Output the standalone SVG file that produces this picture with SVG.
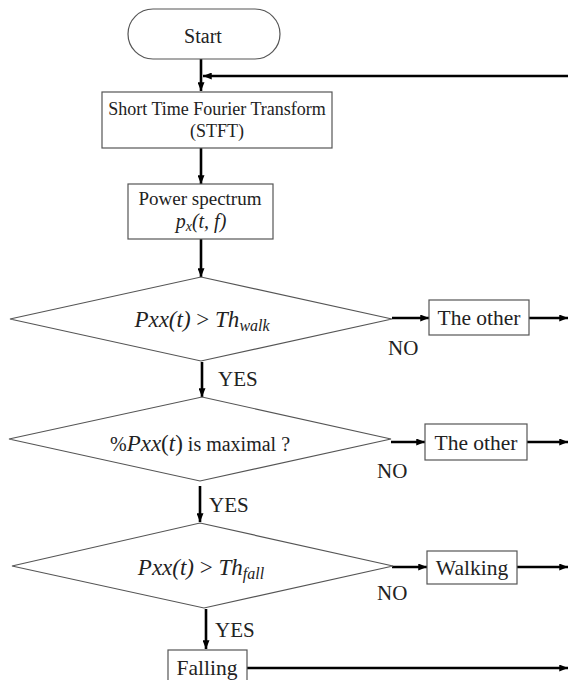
<svg xmlns="http://www.w3.org/2000/svg" width="568" height="680" viewBox="0 0 568 680">
<style>
.shape{fill:#fff;stroke:#555;stroke-width:1.2}
.t{font-family:"Liberation Serif","Times New Roman",serif;fill:#222}
.m{font-family:"Liberation Serif","Times New Roman",serif;font-style:italic;fill:#222}
.c{stroke:#000;stroke-width:2.6;fill:none}
</style>
<defs>
<marker id="ah" viewBox="0 0 10 8" refX="10" refY="4" markerWidth="9" markerHeight="7" markerUnits="userSpaceOnUse" orient="auto">
<path d="M0,0 L10,4 L0,8 z" fill="#000"/>
</marker>
</defs>
<rect width="568" height="680" fill="#fff"/>
<g id="connectors">
<line class="c" x1="201" y1="59" x2="201" y2="91" marker-end="url(#ah)"/>
<line class="c" x1="568" y1="76" x2="203" y2="76" marker-end="url(#ah)"/>
<line class="c" x1="201" y1="148" x2="201" y2="184" marker-end="url(#ah)"/>
<line class="c" x1="201" y1="239" x2="201" y2="277" marker-end="url(#ah)"/>
<line class="c" x1="202" y1="362" x2="202" y2="397" marker-end="url(#ah)"/>
<line class="c" x1="200" y1="486" x2="200" y2="522" marker-end="url(#ah)"/>
<line class="c" x1="206" y1="609" x2="206" y2="649" marker-end="url(#ah)"/>
<line class="c" x1="392" y1="318" x2="429" y2="318" marker-end="url(#ah)"/>
<line class="c" x1="529" y1="318" x2="568" y2="318" marker-end="url(#ah)"/>
<line class="c" x1="391" y1="442" x2="425" y2="442" marker-end="url(#ah)"/>
<line class="c" x1="527" y1="442" x2="568" y2="442" marker-end="url(#ah)"/>
<line class="c" x1="392" y1="567" x2="427" y2="567" marker-end="url(#ah)"/>
<line class="c" x1="517" y1="567" x2="568" y2="567" marker-end="url(#ah)"/>
<line class="c" x1="247" y1="668" x2="568" y2="668" marker-end="url(#ah)"/>
</g>
<g id="start">
<rect class="shape" x="128" y="9" width="152" height="50" rx="25" ry="25"/>
<text class="t" x="203" y="43" font-size="20" text-anchor="middle">Start</text>
</g>
<g id="stft">
<rect class="shape" x="102" y="92" width="230" height="56"/>
<text class="t" x="217" y="115" font-size="18" text-anchor="middle">Short Time Fourier Transform</text>
<text class="t" x="217" y="137" font-size="18" text-anchor="middle">(STFT)</text>
</g>
<g id="power">
<rect class="shape" x="128" y="184" width="145" height="55"/>
<text class="t" x="200" y="205" font-size="19" text-anchor="middle">Power spectrum</text>
<text class="m" x="201" y="228" font-size="20" text-anchor="middle">p<tspan font-size="14" dy="3">x</tspan><tspan dy="-3">(t, f)</tspan></text>
</g>
<g id="dec1">
<polygon class="shape" points="201,277 392,319 201,361 10,319"/>
<text class="m" x="202" y="327" font-size="23" text-anchor="middle">Pxx(t) <tspan font-style="normal">&gt;</tspan> Th<tspan font-size="16" dy="4">walk</tspan></text>
</g>
<g id="other1">
<rect class="shape" x="429" y="300" width="100" height="35"/>
<text class="t" x="479" y="325" font-size="21.5" text-anchor="middle">The other</text>
</g>
<text class="t" x="388" y="355" font-size="21">NO</text>
<text class="t" x="218" y="386" font-size="21">YES</text>
<g id="dec2">
<polygon class="shape" points="202,397 391,439 200,481 9,439"/>
<text class="t" x="200" y="451" font-size="20" text-anchor="middle">%<tspan class="m" font-size="23">Pxx</tspan><tspan font-size="23">(</tspan><tspan class="m" font-size="23">t</tspan><tspan font-size="23">)</tspan> is maximal ?</text>
</g>
<g id="other2">
<rect class="shape" x="425" y="424" width="102" height="36"/>
<text class="t" x="476" y="450" font-size="21.5" text-anchor="middle">The other</text>
</g>
<text class="t" x="377" y="478" font-size="21">NO</text>
<text class="t" x="209" y="512" font-size="21">YES</text>
<g id="dec3">
<polygon class="shape" points="200,523 393,566 204,608 12,566"/>
<text class="m" x="201" y="575" font-size="23" text-anchor="middle">Pxx(t) <tspan font-style="normal">&gt;</tspan> Th<tspan font-size="16" dy="4">fall</tspan></text>
</g>
<g id="walking">
<rect class="shape" x="427" y="551" width="90" height="33"/>
<text class="t" x="472" y="575" font-size="21.5" text-anchor="middle">Walking</text>
</g>
<text class="t" x="377" y="600" font-size="21">NO</text>
<text class="t" x="215" y="637" font-size="21">YES</text>
<g id="falling">
<rect class="shape" x="168" y="650" width="79" height="40"/>
<text class="t" x="207" y="675" font-size="21.5" text-anchor="middle">Falling</text>
</g>
</svg>
